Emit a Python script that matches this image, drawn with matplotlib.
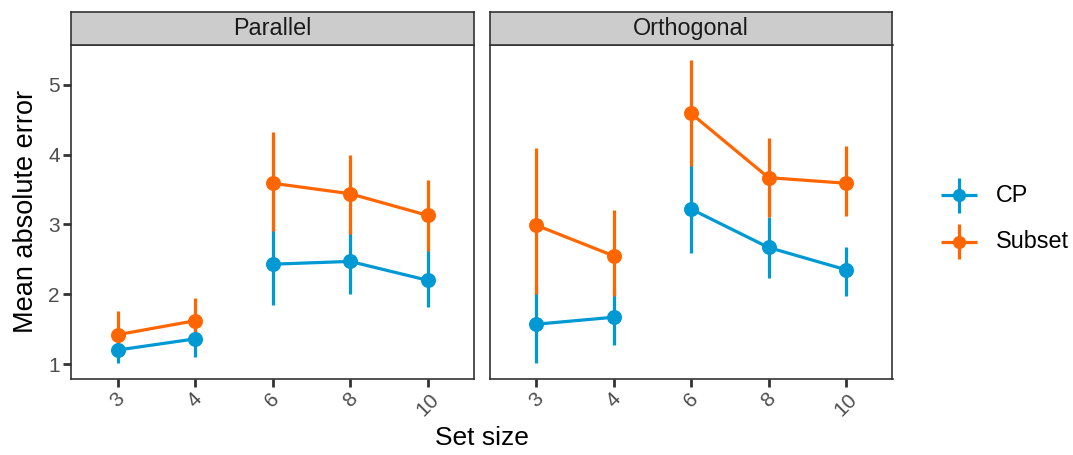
import matplotlib
matplotlib.use("Agg")
import matplotlib.pyplot as plt
import numpy as np

plt.rcParams["font.family"] = ["Liberation Sans", "DejaVu Sans"]

# Data: mean absolute error with interval bounds per condition
set_sizes = [3, 4, 6, 8, 10]
segments = [[3, 4], [6, 8, 10]]          # set sizes joined by a line
panels = ["Parallel", "Orthogonal"]
series = ["CP", "Subset"]

cp_par_mean = [1.20, 1.36, 2.43, 2.47, 2.20]
cp_par_lo = [1.01, 1.10, 1.85, 2.00, 1.82]
cp_par_hi = [1.39, 1.62, 3.01, 2.94, 2.63]
sub_par_mean = [1.42, 1.62, 3.59, 3.44, 3.13]
sub_par_lo = [1.12, 1.33, 2.91, 2.86, 2.62]
sub_par_hi = [1.76, 1.95, 4.32, 4.00, 3.63]

cp_orth_mean = [1.57, 1.67, 3.22, 2.67, 2.35]
cp_orth_lo = [1.01, 1.27, 2.59, 2.23, 1.98]
cp_orth_hi = [2.13, 2.07, 3.85, 3.11, 2.68]
sub_orth_mean = [2.99, 2.55, 4.59, 3.67, 3.59]
sub_orth_lo = [2.00, 1.97, 3.84, 3.10, 3.12]
sub_orth_hi = [4.09, 3.21, 5.36, 4.24, 4.13]

y_ticks = [1, 2, 3, 4, 5]

data = {
    "Parallel": {
        "CP": (cp_par_mean, cp_par_lo, cp_par_hi),
        "Subset": (sub_par_mean, sub_par_lo, sub_par_hi),
    },
    "Orthogonal": {
        "CP": (cp_orth_mean, cp_orth_lo, cp_orth_hi),
        "Subset": (sub_orth_mean, sub_orth_lo, sub_orth_hi),
    },
}

colors = {"CP": "#0099D3", "Subset": "#FF6600"}
border = "#333333"
tick_col = "#4D4D4D"

W, H = 1073, 455
fig = plt.figure(figsize=(W / 100, H / 100), dpi=100)


def fx(px):
    return px / W


def fy(py):
    return 1 - py / H


# y range with 5% expansion like ggplot
all_vals = np.concatenate([np.ravel(v) for p in data.values() for s in p.values() for v in s])
ymin, ymax = all_vals.min(), all_vals.max()
pad = 0.05 * (ymax - ymin)
ylim = (ymin - pad, ymax + pad)

panel_left = [71, 489.5]
panel_w = 403
panel_top, panel_bot = 44.5, 378.5
strip_top = 12

pos = {s: i + 1 for i, s in enumerate(set_sizes)}

for k, name in enumerate(panels):
    ax = fig.add_axes([fx(panel_left[k]), fy(panel_bot), fx(panel_w),
                       (panel_bot - panel_top) / H])
    for j, s in enumerate(series):
        mean, lo, hi = data[name][s]
        xs = [pos[v] for v in set_sizes]
        ax.vlines(xs, lo, hi, color=colors[s], lw=2.3, zorder=2 + j * 0.1)
        for seg in segments:
            idx = [set_sizes.index(v) for v in seg]
            ax.plot([pos[set_sizes[i]] for i in idx], [mean[i] for i in idx],
                    color=colors[s], lw=2.3, zorder=3, solid_capstyle="butt")
        ax.plot(xs, mean, "o", color=colors[s], ms=10.8, mew=0, zorder=4 + j * 0.1)

    ax.set_xlim(0.4, len(set_sizes) + 0.6)
    ax.set_ylim(*ylim)
    ax.set_xticks([pos[v] for v in set_sizes])
    ax.set_xticklabels([str(v) for v in set_sizes], rotation=45, ha="center",
                       va="top", fontsize=15, color=tick_col)
    ax.set_yticks(y_ticks)
    if k == 0:
        ax.set_yticklabels([str(v) for v in y_ticks], fontsize=15, color=tick_col)
        ax.set_ylabel("Mean absolute error", fontsize=19.5, color="black", labelpad=7)
    else:
        ax.tick_params(axis="y", left=False, labelleft=False)
    ax.tick_params(axis="both", direction="out", length=6, width=2, color=border, pad=2)
    for sp in ax.spines.values():
        sp.set_color(border)
        sp.set_linewidth(1.2)

    # facet strip
    sax = fig.add_axes([fx(panel_left[k]), fy(panel_top), fx(panel_w),
                        (panel_top - strip_top) / H])
    sax.set_facecolor("#CCCCCC")
    sax.set_xticks([])
    sax.set_yticks([])
    for sp in sax.spines.values():
        sp.set_color(border)
        sp.set_linewidth(1.2)
    sax.text(0.5, 0.48, name, ha="center", va="center", fontsize=16.8,
             color="#1A1A1A", transform=sax.transAxes)

fig.text(fx(482), fy(438), "Set size", ha="center", va="center", fontsize=19)

# legend
lax = fig.add_axes([fx(925), fy(275), fx(148), 110 / H])
lax.set_xlim(925, 1073)
lax.set_ylim(275, 165)
lax.axis("off")
for s, yc in zip(series, [195.5, 242]):
    lax.plot([941, 977], [yc, yc], color=colors[s], lw=2.3, solid_capstyle="butt")
    lax.plot([959, 959], [yc - 17.5, yc + 17.5], color=colors[s], lw=2.3,
             solid_capstyle="butt")
    lax.plot([959], [yc], "o", color=colors[s], ms=9.5, mew=0)
    lax.text(996, yc, s, ha="left", va="center", fontsize=16.8, color="black")

fig.savefig("out.png", dpi=100)
